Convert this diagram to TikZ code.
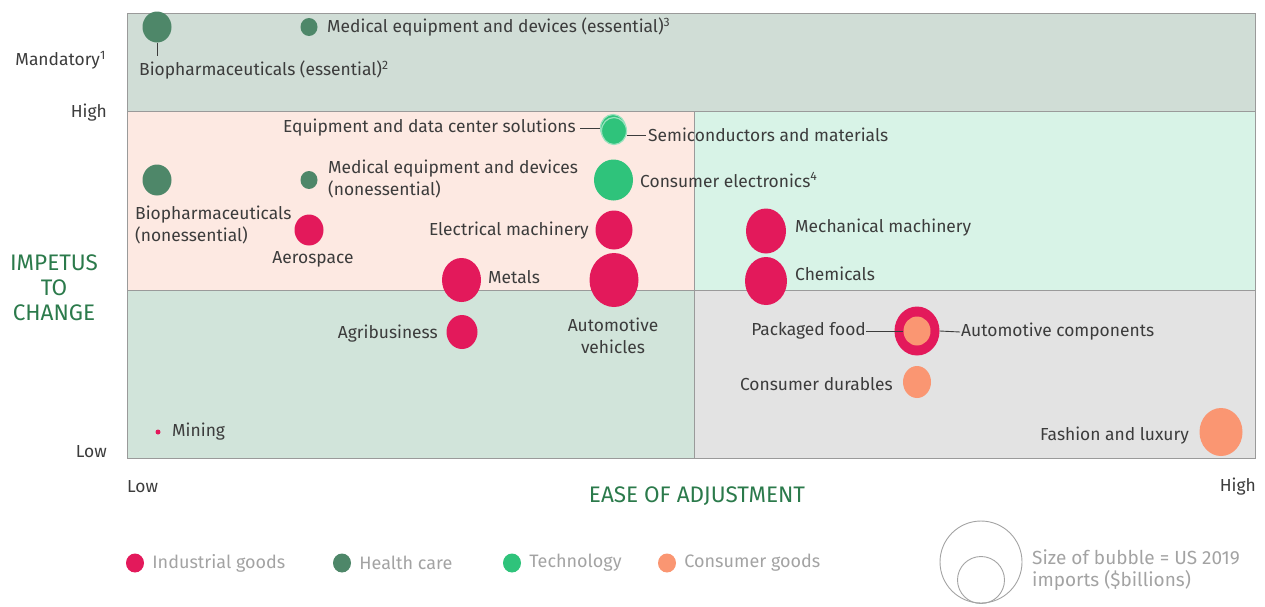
\documentclass[tikz,border=0pt]{standalone}
\usepackage{fontspec}
\setmainfont{Fira Sans}
\usepackage{tikz}
\usetikzlibrary{shapes.geometric}
\usepackage{xcolor}
\definecolor{indred}{HTML}{E3195B}
\definecolor{hcgreen}{HTML}{4E8769}
\definecolor{techgreen}{HTML}{2FC37B}
\definecolor{consorange}{HTML}{FA9672}
\definecolor{axisgreen}{HTML}{2B7A4B}
\definecolor{labgray}{HTML}{3C3C3C}
\definecolor{leggray}{HTML}{A3A3A3}
\definecolor{bandtop}{HTML}{D0DDD6}
\definecolor{midleft}{HTML}{FDE9E2}
\definecolor{midright}{HTML}{D8F3E7}
\definecolor{lowleft}{HTML}{D1E4DA}
\definecolor{lowright}{HTML}{E3E3E3}
\definecolor{framegray}{HTML}{9A9A9A}

\begin{document}
\begin{tikzpicture}[x=1pt,y=-1pt,
	bub/.style={ellipse,inner sep=0pt,draw=none},
	lab/.style={text=labgray,font=\fontsize{17.4}{22}\selectfont,inner sep=0pt},
	ttl/.style={text=axisgreen,font=\fontsize{22.5}{25}\selectfont,inner sep=0pt,align=center},
	leg/.style={text=leggray,font=\fontsize{18}{22}\selectfont,inner sep=0pt},
	lead/.style={draw=labgray,line width=0.9pt}]
			\useasboundingbox (0,0) rectangle (1265,606);
			% quadrants
			\fill[bandtop] (127,13) rectangle (1255,111);
			\fill[midleft] (127,111) rectangle (694,290);
			\fill[midright] (694,111) rectangle (1255,290);
			\fill[lowleft] (127,290) rectangle (694,458);
			\fill[lowright] (694,290) rectangle (1255,458);
			\draw[framegray] (127,13) rectangle (1255,458);
			\draw[framegray] (127,111) -- (1255,111);
			\draw[framegray] (127,290) -- (1255,290);
			\draw[framegray] (694,111) -- (694,458);
			% axes
			\node[lab,anchor=east] (mand) at (106,60) {Mandatory\textsuperscript{1}};
			\node[lab,anchor=east] (yhigh) at (107,113) {High};
			\node[lab,anchor=east] (ylow) at (107,452) {Low};
			\node[lab,anchor=west] (xlow) at (127,487) {Low};
			\node[lab,anchor=east] (xhigh) at (1256,487) {High};
			\node[ttl] (ytitle) at (54,288) {IMPETUS\\TO\\CHANGE};
			\node[ttl] (xtitle) at (697,496) {EASE OF ADJUSTMENT};
			% health care
			\node[bub,fill=hcgreen,minimum width=29,minimum height=31] (bioe) at (157,27) {};
			\coordinate (bioetail) at (157,56);
			\draw[lead] (bioe.south) -- (bioetail);
			\node[lab,anchor=west] (bioelab) at (139,70) {Biopharmaceuticals (essential)\textsuperscript{2}};
			\node[bub,fill=hcgreen,minimum width=17,minimum height=18] (mede) at (309,27) {};
			\node[lab,anchor=west] (medelab) at (327,27) {Medical equipment and devices (essential)\textsuperscript{3}};
			\node[bub,fill=hcgreen,minimum width=29,minimum height=31] (bion) at (157,180) {};
			\node[lab,anchor=west,align=left] (bionlab) at (135,224.5) {Biopharmaceuticals\\(nonessential)};
			\node[bub,fill=hcgreen,minimum width=17,minimum height=18] (medn) at (309,180) {};
			\node[lab,anchor=west,align=left] (mednlab) at (328,178.5) {Medical equipment and devices\\(nonessential)};
			% technology
			\node[bub,fill=techgreen,draw=techgreen!50!white,line width=1.2pt,minimum width=25,minimum height=27] (eqdc) at (613,128) {};
			\node[bub,fill=techgreen,draw=techgreen!50!white,line width=1.2pt,minimum width=25,minimum height=27] (semi) at (614,131) {};
			\node[lab,anchor=east] (eqdclab) at (576,128) {Equipment and data center solutions};
			\node[lab,anchor=west] (semilab) at (648,135) {Semiconductors and materials};
			\draw[lead] ([xshift=4pt]eqdclab.east) -- (eqdc.west);
			\draw[lead] (semi.east |- semilab.west) -- ([xshift=-2pt]semilab.west);
			\node[bub,fill=techgreen,minimum width=39,minimum height=41] (conel) at (613.5,180) {};
			\node[lab,anchor=west] (conellab) at (640,180) {Consumer electronics\textsuperscript{4}};
			% industrial goods
			\node[bub,fill=indred,minimum width=29,minimum height=31] (aero) at (309,230) {};
			\node[lab] (aerolab) at (313,259) {Aerospace};
			\node[bub,fill=indred,minimum width=37,minimum height=39] (elec) at (614,230) {};
			\node[lab,anchor=east] (eleclab) at (589,231) {Electrical machinery};
			\node[bub,fill=indred,minimum width=39,minimum height=44] (metals) at (461.5,280) {};
			\node[lab,anchor=west] (metlab) at (488,277) {Metals};
			\node[bub,fill=indred,minimum width=49,minimum height=54] (autov) at (614,280) {};
			\node[lab,align=center] (autovlab) at (613,336) {Automotive\\vehicles};
			\node[bub,fill=indred,minimum width=31,minimum height=34] (agri) at (462,332) {};
			\node[lab,anchor=east] (agrilab) at (438,334) {Agribusiness};
			\node[bub,fill=indred,minimum width=40,minimum height=45] (mech) at (766,231) {};
			\node[lab,anchor=west] (mechlab) at (795,228) {Mechanical machinery};
			\node[bub,fill=indred,minimum width=42,minimum height=48] (chem) at (766,281) {};
			\node[lab,anchor=west] (chemlab) at (795,274) {Chemicals};
			\node[bub,fill=indred,minimum width=5,minimum height=5] (mining) at (158,432) {};
			\node[lab,anchor=west] (mininglab) at (172,432) {Mining};
			% consumer goods
			\node[bub,fill=indred,minimum width=45,minimum height=49] (autocomp) at (917,331) {};
			\node[bub,fill=consorange,minimum width=27,minimum height=29] (pkgfood) at (917,331) {};
			\node[lab,anchor=east] (pkgfoodlab) at (866,331) {Packaged food};
			\node[lab,anchor=west] (autocomplab) at (961,332) {Automotive components};
			\draw[lead] (pkgfoodlab.east) -- (pkgfood.west);
			\draw[lead] (autocomp.east) -- ([xshift=-1pt]autocomplab.west);
			\node[bub,fill=consorange,minimum width=28,minimum height=32] (consd) at (917,382) {};
			\node[lab,anchor=east] (consdlab) at (893,384) {Consumer durables};
			\node[bub,fill=consorange,minimum width=43,minimum height=48] (fashion) at (1221,432) {};
			\node[lab,anchor=east] (fashlab) at (1189,436) {Fashion and luxury};
			% legend
			\foreach \cx/\col/\txt in {135/indred/Industrial goods,342/hcgreen/Health care,512/techgreen/Technology,667/consorange/Consumer goods}
			{
				\node[bub,fill=\col,minimum width=18,minimum height=19] (leg\cx) at (\cx,563) {};
				\node[leg,anchor=west] (legtxt\cx) at ([xshift=8pt]leg\cx.east) {\txt};
			}
			\node[circle,draw=leggray,line width=0.9pt,inner sep=0pt,minimum size=82] (szbig) at (981,562) {};
			\node[circle,draw=leggray,line width=0.9pt,inner sep=0pt,minimum size=47] (szsmall) at (981,580) {};
			\node[leg,anchor=west,align=left,font=\fontsize{19}{22}\selectfont] (sztxt) at (1032,570) {Size of bubble = US 2019\\imports (\$billions)};
		\end{tikzpicture}
\end{document}
